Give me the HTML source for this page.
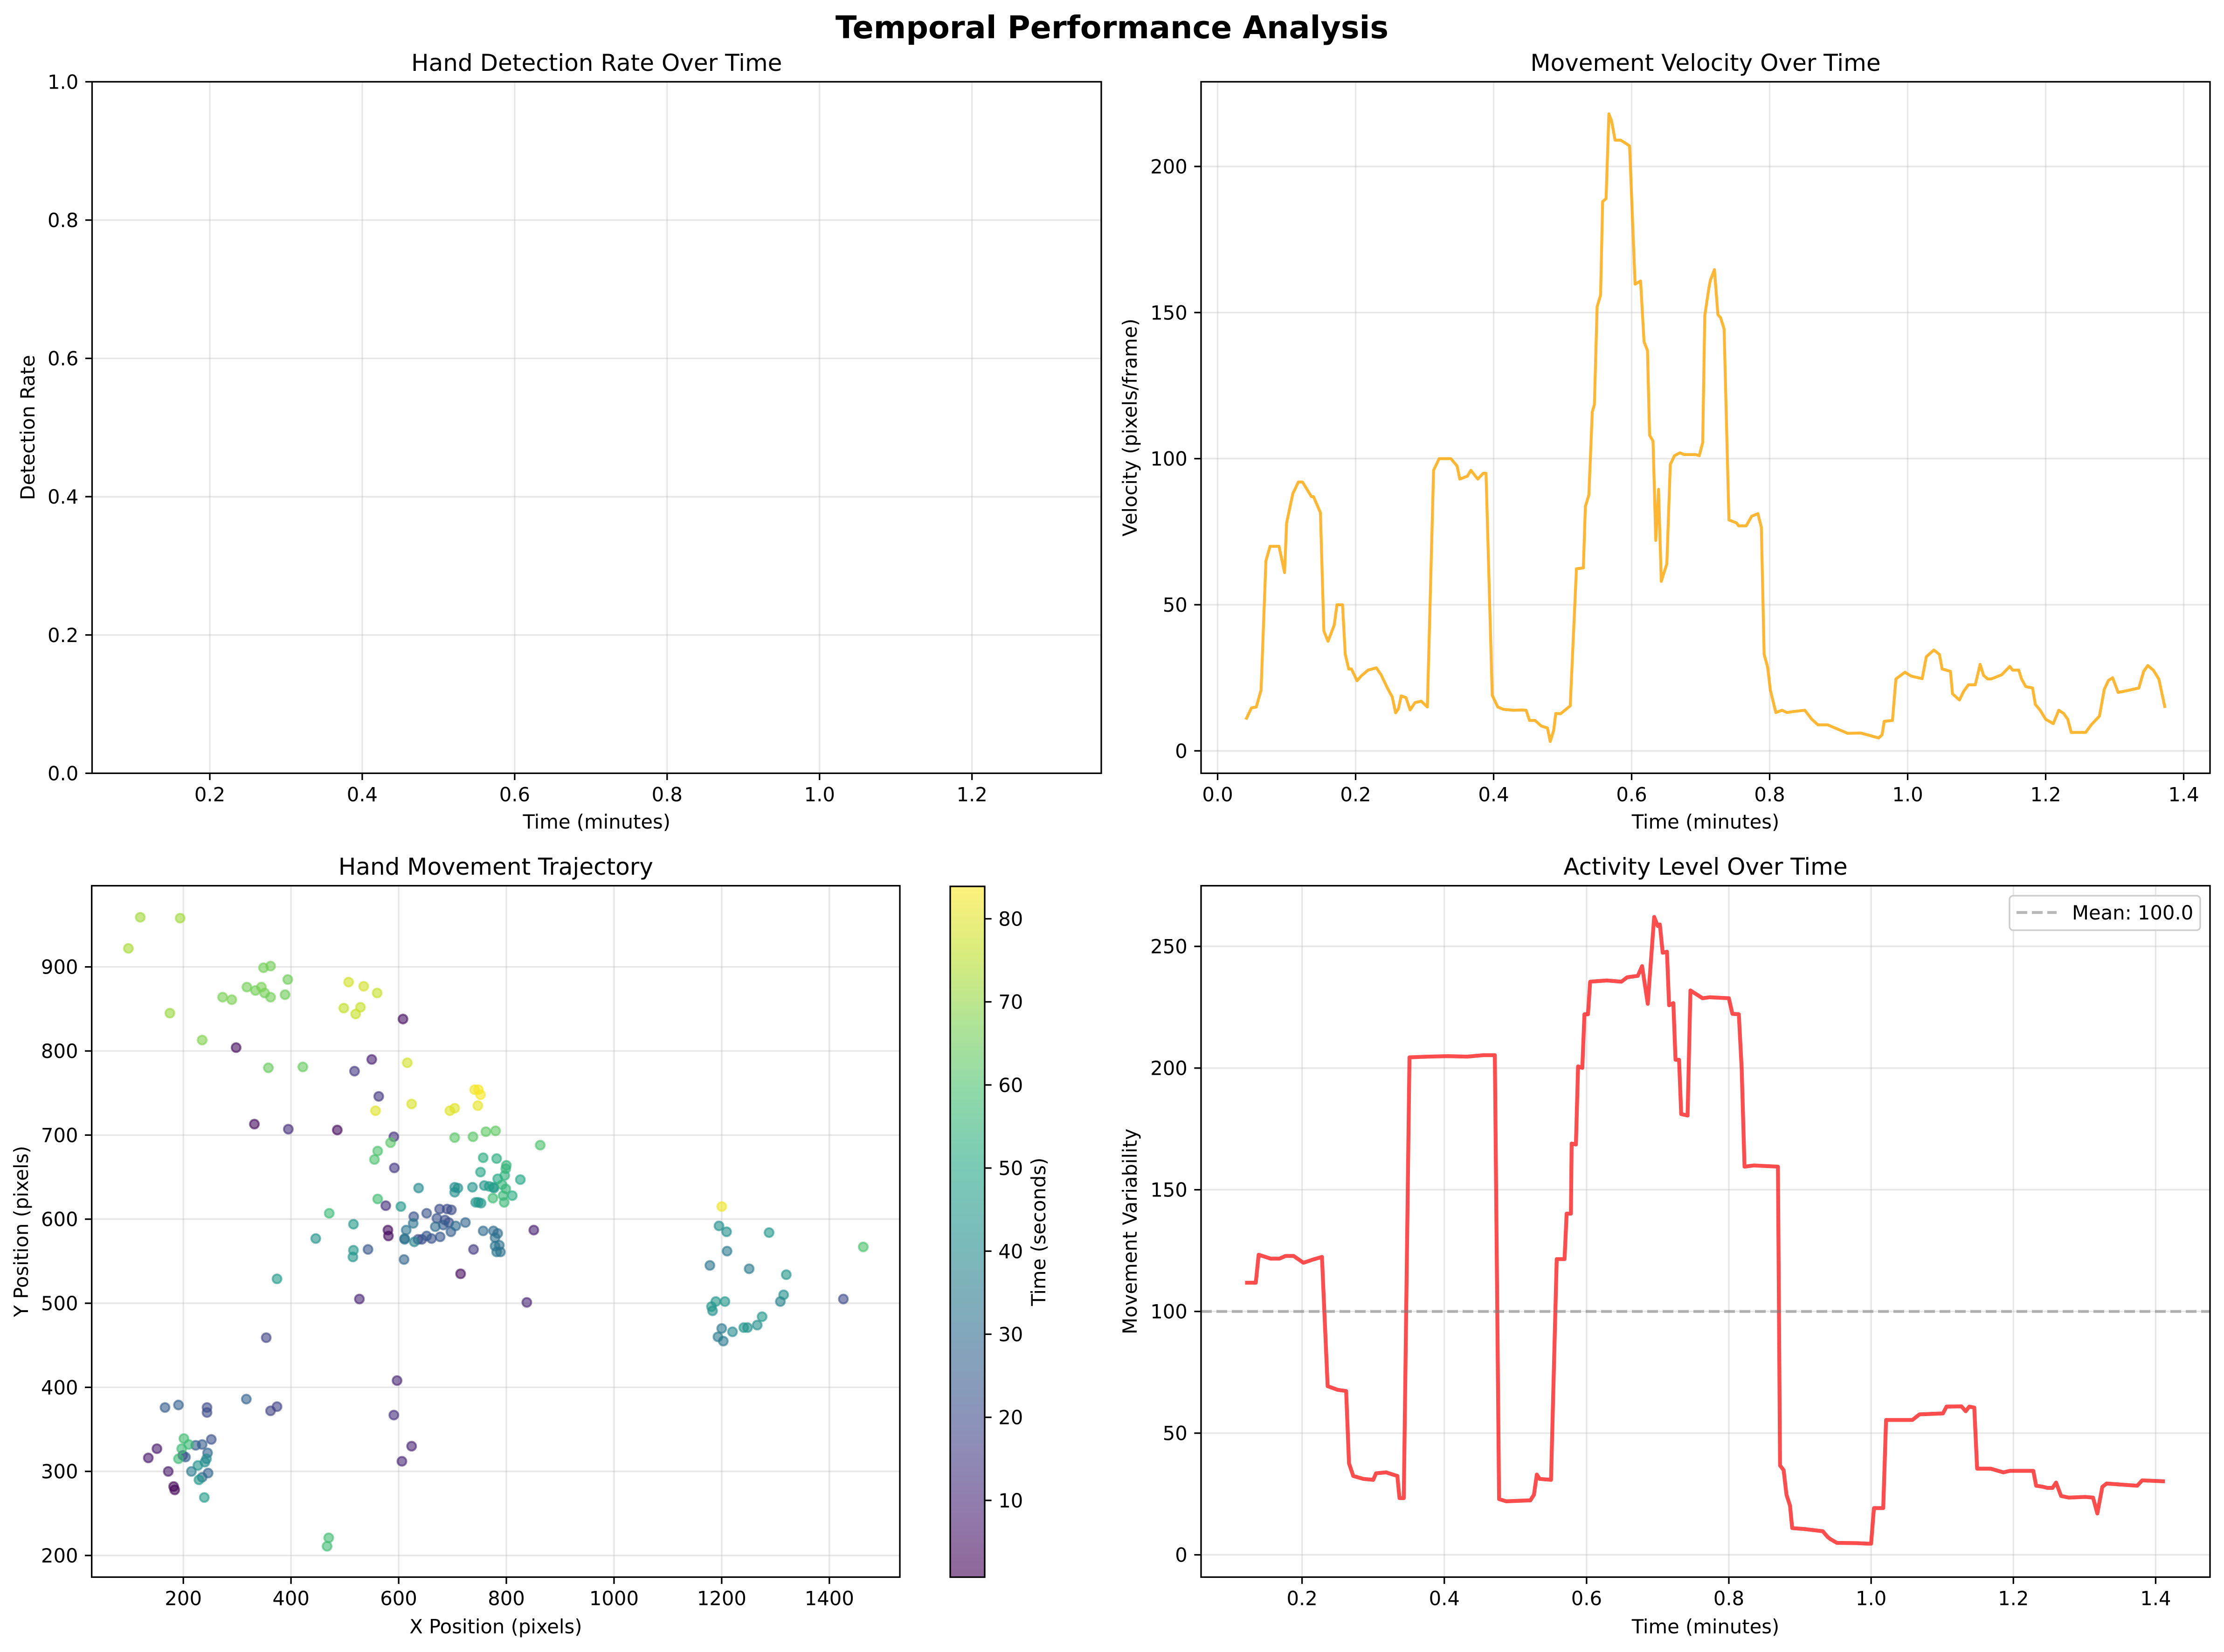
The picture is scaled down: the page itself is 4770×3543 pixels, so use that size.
<!DOCTYPE html>
<html><head><meta charset="utf-8"><title>Temporal Performance Analysis</title>
<style>html,body{margin:0;padding:0;background:#fff}svg{display:block}text{font-family:"DejaVu Sans","Liberation Sans",sans-serif;fill:#000}</style>
</head><body>
<svg id="fig" xmlns="http://www.w3.org/2000/svg" width="4770" height="3543" viewBox="0 0 4770 3543">
<rect x="0" y="0" width="4770" height="3543" fill="#fff"/>
<text x="2385" y="82" font-size="66.7" font-weight="bold" text-anchor="middle">Temporal Performance Analysis</text>
<defs>
<linearGradient id="vir" x1="0" y1="1" x2="0" y2="0">
<stop offset="0" stop-color="#440154"/><stop offset="0.1" stop-color="#482475"/><stop offset="0.2" stop-color="#414487"/><stop offset="0.3" stop-color="#355f8d"/><stop offset="0.4" stop-color="#2a788e"/><stop offset="0.5" stop-color="#21918c"/><stop offset="0.6" stop-color="#22a884"/><stop offset="0.7" stop-color="#44bf70"/><stop offset="0.8" stop-color="#7ad151"/><stop offset="0.9" stop-color="#bddf26"/><stop offset="1" stop-color="#fde725"/>
</linearGradient>
</defs>
</svg>
<script>
// ---- Velocity panel data ----
const velTime = [0.041,0.049,0.056,0.063,0.070,0.076,0.089,0.097,0.100,0.109,0.117,0.123,0.136,0.139,0.149,0.154,0.160,0.169,0.173,0.181,0.185,0.190,0.194,0.202,0.208,0.218,0.230,0.237,0.246,0.253,0.258,0.262,0.266,0.273,0.279,0.286,0.295,0.304,0.313,0.321,0.338,0.347,0.351,0.362,0.367,0.377,0.385,0.389,0.398,0.406,0.414,0.429,0.441,0.447,0.452,0.460,0.469,0.478,0.482,0.487,0.490,0.497,0.511,0.520,0.530,0.533,0.538,0.543,0.546,0.550,0.555,0.558,0.563,0.567,0.571,0.576,0.584,0.591,0.597,0.605,0.613,0.618,0.623,0.626,0.631,0.635,0.639,0.643,0.651,0.656,0.662,0.670,0.676,0.693,0.698,0.703,0.706,0.712,0.714,0.720,0.725,0.729,0.734,0.741,0.752,0.755,0.766,0.774,0.783,0.788,0.792,0.797,0.801,0.809,0.818,0.825,0.833,0.851,0.861,0.870,0.884,0.903,0.913,0.932,0.946,0.958,0.963,0.966,0.978,0.983,0.996,1.005,1.021,1.027,1.038,1.046,1.050,1.062,1.065,1.075,1.081,1.088,1.098,1.105,1.110,1.116,1.121,1.136,1.141,1.148,1.152,1.161,1.165,1.171,1.181,1.185,1.192,1.200,1.211,1.219,1.226,1.232,1.237,1.258,1.266,1.278,1.285,1.291,1.297,1.305,1.318,1.335,1.342,1.348,1.356,1.364,1.373];
const velValues = [10.7,14.7,15,20.8,65,70,70,61,78,88,92,92,87,87,81.5,41,37.5,43,50,50,33,28,28,24,25.6,27.6,28.4,26,21.5,18.5,13,14.4,18.8,18.2,14,16.5,17,15,96,100,100,97.5,93,94,96,93,95,95,19,15,14.2,13.9,14,13.9,10.4,10.4,8.5,7.8,3.2,7,12.8,12.7,15.4,62.3,62.6,83.7,87.5,116,118.5,152,156,188,189,218,215.5,209,209,208,207,159.7,160.8,140,137,108,106,72,89.5,58,64,98,101,102,101.4,101.4,101,105.5,149,158.5,161,164.7,149.3,148.2,144.4,79,78,77,77,80.3,81.2,76.5,33,28.7,20.8,13.1,13.9,13.1,13.4,13.9,10.8,8.9,8.9,7,6,6.1,5.2,4.4,5.5,10.1,10.4,24.6,26.9,25.6,24.7,32.2,34.5,33,28,27.2,19.5,17.4,20.3,22.6,22.6,29.6,25.8,24.6,24.6,26,27.2,28.9,27.6,27.6,24.6,22,21.5,15.9,13.9,10.8,9.3,13.9,12.8,10.8,6.3,6.3,8.9,11.9,21.1,24.1,25,20,20.6,21.5,27.2,29.2,27.6,24.6,14.7];
const velXTicks = [0.0,0.2,0.4,0.6,0.8,1.0,1.2,1.4];
const velYTicks = [0,50,100,150,200];

// ---- Activity panel data ----
const actTime = [0.120,0.135,0.139,0.156,0.168,0.177,0.188,0.202,0.215,0.228,0.236,0.250,0.262,0.266,0.272,0.286,0.300,0.304,0.318,0.334,0.337,0.343,0.351,0.377,0.405,0.432,0.455,0.471,0.477,0.487,0.521,0.526,0.530,0.534,0.550,0.558,0.569,0.572,0.578,0.579,0.585,0.588,0.594,0.597,0.602,0.605,0.628,0.649,0.657,0.672,0.678,0.686,0.695,0.700,0.703,0.707,0.713,0.716,0.722,0.725,0.730,0.733,0.742,0.746,0.763,0.773,0.800,0.805,0.814,0.818,0.822,0.835,0.869,0.872,0.877,0.881,0.886,0.889,0.906,0.932,0.939,0.943,0.952,0.980,0.994,1.000,1.004,1.017,1.021,1.058,1.068,1.101,1.106,1.127,1.133,1.138,1.145,1.149,1.168,1.186,1.195,1.228,1.232,1.241,1.248,1.255,1.260,1.267,1.278,1.301,1.312,1.318,1.325,1.331,1.374,1.381,1.413];
const actValues = [111.8,111.8,123.3,121.7,121.7,122.8,122.8,120,121.3,122.4,69.3,67.8,67.3,37.6,32.4,31.2,30.8,33.5,33.9,32.4,23.3,23.3,204.4,204.7,204.9,204.7,205.3,205.3,22.9,22,22.4,24.7,33,31.2,30.8,121.5,121.5,140.2,140.2,169,168.6,200.7,200.1,222.1,222.1,235.5,236,235.5,237.3,237.9,241.9,226.4,262.1,258.4,259,247.4,247.8,225.8,226.7,203.4,203.4,181.1,180.5,231.9,228.7,229.1,228.7,222.3,222.1,199.8,159.5,160,159.5,36.7,34.8,24.7,20.2,11,10.6,9.7,7.3,6.4,4.9,4.8,4.6,4.6,19.2,19.2,55.4,55.4,57.7,58.1,60.9,61,59,60.9,60.5,35.4,35.4,33.9,34.5,34.5,28.4,28,27.5,27.5,29.7,24.2,23.5,23.8,23.5,17,27.9,29.3,28.4,30.6,30.2];
const actMean = [100.0];
const actXTicks = [0.2,0.4,0.6,0.8,1.0,1.2,1.4];
const actYTicks = [0,50,100,150,200,250];

// ---- Detection panel ticks ----
const detXTicks = [0.2,0.4,0.6,0.8,1.0,1.2];
const detYTicks = [0.0,0.2,0.4,0.6,0.8,1.0];

// ---- Trajectory scatter data ----
const scX = [120,194,98,362,349,394,318,334,345,351,362,273,290,389,507,535,560,498,529,520,175,235,298,358,422,608,550,518,616,563,748,752,741,747,624,557,695,704,332,395,486,591,585,704,738,762,780,561,555,592,757,782,752,637,704,710,737,759,768,776,775,704,561,576,604,743,748,753,471,516,628,652,676,690,698,671,686,693,627,614,668,683,706,724,697,677,661,652,643,636,629,611,611,580,581,757,776,779,779,782,739,543,516,515,446,610,715,374,527,354,597,317,374,362,166,191,244,244,591,252,201,235,223,210,197,199,204,191,151,135,245,243,240,624,606,172,215,227,246,235,229,182,184,239,470,467,863,800,799,797,826,784,792,799,777,794,811,796,851,784,787,789,838,1200,1195,1209,1288,1210,1178,1251,1320,1315,1309,1189,1206,1181,1183,1426,1463,1275,1266,1248,1241,1220,1200,1193,1203];
const scY = [959,958,922,901,899,885,876,872,876,869,864,864,861,867,882,877,869,851,852,844,845,813,804,780,781,838,790,776,786,746,754,748,754,735,737,729,729,732,713,707,706,698,691,697,698,704,705,681,671,661,673,672,656,637,638,637,638,640,639,638,625,632,624,616,615,620,620,619,607,594,603,607,612,612,611,601,599,596,595,587,591,593,592,596,585,579,577,580,576,576,573,577,576,587,580,586,586,578,568,561,564,564,563,555,577,552,535,529,505,459,408,386,377,372,376,379,376,370,367,338,339,332,331,332,327,319,317,315,327,316,322,315,311,330,312,300,300,307,298,293,290,282,278,269,221,211,688,664,660,652,647,648,641,636,637,628,628,620,587,583,569,561,501,615,592,585,584,562,545,541,534,510,502,502,502,496,491,505,567,484,474,471,471,466,470,460,455];
const scT = [72,72,73,66,66,65,66,66,67,66,66,67,67,65,78,78,77,76,77,77,71,68,4,64,64,4,8,14,78,14,83,83,82,81,79,80,80,80,3,12,3,13,62,62,62,63,63,60,60,14,52,52,50,40,42,42,43,44,46,47,58,42,58,12,45,44,44,44,57,45,22,22,20,20,20,22,21,21,33,33,30,25,30,28,26,24,22,24,20,21,38,33,30,3,3,30,30,32,33,33,15,23,44,44,43,28,4,46,10,17,10,27,17,17,25,27,20,20,12,21,58,25,25,57,57,12,26,57,7,7,28,40,40,9,10,7,35,43,27,30,45,2,2,47,58,58,60,55,55,54,50,50,55,55,40,56,52,56,8,30,32,32,10,82,42,42,45,35,33,35,44,42,37,44,44,45,42,20,60,45,42,42,44,40,35,35,35];
const scXTicks = [200,400,600,800,1000,1200,1400];
const scYTicks = [200,300,400,500,600,700,800,900];
const cbTicks = [10,20,30,40,50,60,70,80];
const cbRange = [0.76,83.9];

const NS = 'http://www.w3.org/2000/svg';
const svg = document.getElementById('fig');
function mk(tag, attrs, parent) {
  const e = document.createElementNS(NS, tag);
  for (const k in attrs) e.setAttribute(k, attrs[k]);
  (parent || svg).appendChild(e);
  return e;
}
function lin(d0, d1, r0, r1) { return v => r0 + (v - d0) * (r1 - r0) / (d1 - d0); }
const TICK = 14.6, FS = 41.7;

function axesFrame(name, L, T, R, B, sx, sy, xt, yt, fmtx, fmty) {
  const g = mk('g', {});
  
  
  xt.forEach(v => {
    const x = sx(v);
    const gl = mk('line', {x1: x, x2: x, y1: T, y2: B, stroke: '#b0b0b0', 'stroke-opacity': 0.3, 'stroke-width': 3.3}, g);
    
    
    const tk = mk('line', {x1: x, x2: x, y1: B, y2: B + TICK, stroke: '#000', 'stroke-width': 3.3}, g);
    
    
    const tl = mk('text', {x: x, y: B + TICK + 14.6 + 31, 'font-size': FS, 'text-anchor': 'middle'}, g);
    tl.textContent = fmtx(v);
    
    
  });
  yt.forEach(v => {
    const y = sy(v);
    const gl = mk('line', {x1: L, x2: R, y1: y, y2: y, stroke: '#b0b0b0', 'stroke-opacity': 0.3, 'stroke-width': 3.3}, g);
    
    
    const tk = mk('line', {x1: L - TICK, x2: L, y1: y, y2: y, stroke: '#000', 'stroke-width': 3.3}, g);
    
    
    const tl = mk('text', {x: L - TICK - 14.6, y: y + 15, 'font-size': FS, 'text-anchor': 'end'}, g);
    tl.textContent = fmty(v);
    
    
  });
  return g;
}
function spine(name, L, T, R, B) {
  const r = mk('rect', {x: L, y: T, width: R - L, height: B - T, fill: 'none', stroke: '#000', 'stroke-width': 3.3});
  
  
}
function label(name, txt, x, y, fs, rot) {
  const t = mk('text', {x: x, y: y, 'font-size': fs, 'text-anchor': 'middle'});
  if (rot) t.setAttribute('transform', 'rotate(-90 ' + x + ' ' + y + ')');
  t.textContent = txt;
  
  
}
const f1 = v => v.toFixed(1), f0 = v => String(v);

// ---- Panel 1: detection rate (empty) ----
{
  const L = 197.5, T = 175.4, R = 2362, B = 1658.4;
  const sx = lin(0.2, 1.2, 450, 2084.7), sy = lin(0, 1, B, T);
  axesFrame('detection-axes', L, T, R, B, sx, sy, detXTicks, detYTicks, f1, f1);
  spine('detection-frame', L, T, R, B);
  label('detection-title', 'Hand Detection Rate Over Time', (L + R) / 2, 152, 50);
  label('detection-x-axis-title', 'Time (minutes)', (L + R) / 2, 1777, FS);
  label('detection-y-axis-title', 'Detection Rate', 74, (T + B) / 2, FS, true);
}

// ---- Panel 2: velocity ----
{
  const L = 2576, T = 175.4, R = 4740, B = 1658.4;
  const sx = lin(0, 1.4, 2611.5, 4683.5), sy = lin(0, 200, 1610.3, 357);
  axesFrame('velocity-axes', L, T, R, B, sx, sy, velXTicks, velYTicks, f1, f0);
  const pts = velTime.map((t, i) => sx(t).toFixed(1) + ',' + sy(velValues[i]).toFixed(1)).join(' ');
  const pl = mk('polyline', {points: pts, fill: 'none', stroke: '#ffa500', 'stroke-opacity': 0.8, 'stroke-width': 6.25, 'stroke-linejoin': 'round'});
  
  
  spine('velocity-frame', L, T, R, B);
  label('velocity-title', 'Movement Velocity Over Time', (L + R) / 2, 152, 50);
  label('velocity-x-axis-title', 'Time (minutes)', (L + R) / 2, 1777, FS);
  label('velocity-y-axis-title', 'Velocity (pixels/frame)', 2438, (T + B) / 2, FS, true);
}

// ---- Panel 3: trajectory scatter ----
const vstops = [[68,1,84],[72,36,117],[65,68,135],[53,95,141],[42,120,142],[33,145,140],[34,168,132],[68,191,112],[122,209,81],[189,223,38],[253,231,37]];
function viridis(v) {
  let f = (v - cbRange[0]) / (cbRange[1] - cbRange[0]);
  f = Math.max(0, Math.min(1, f)) * 10;
  const i = Math.min(9, Math.floor(f)), r = f - i;
  const a = vstops[i], b = vstops[i + 1];
  return 'rgb(' + [0,1,2].map(k => Math.round(a[k] + (b[k] - a[k]) * r)).join(',') + ')';
}
{
  const L = 196.7, T = 1899.6, R = 1930, B = 3382.4;
  const sx = lin(200, 1400, 393.2, 1778.8), sy = lin(900, 200, 2073.7, 3336);
  axesFrame('trajectory-axes', L, T, R, B, sx, sy, scXTicks, scYTicks, f0, f0);
  const order = scT.map((t, i) => i).sort((a, b) => scT[a] - scT[b]);
  const g = mk('g', {});
  
  
  order.forEach(i => {
    const c = viridis(scT[i]);
    const p = mk('circle', {cx: sx(scX[i]).toFixed(1), cy: sy(scY[i]).toFixed(1), r: 9.5, fill: c, stroke: c, 'stroke-width': 4, 'fill-opacity': 0.6, 'stroke-opacity': 0.6}, g);
    
    
  });
  spine('trajectory-frame', L, T, R, B);
  label('trajectory-title', 'Hand Movement Trajectory', (L + R) / 2, 1876, 50);
  label('trajectory-x-axis-title', 'X Position (pixels)', (L + R) / 2, 3503, FS);
  label('trajectory-y-axis-title', 'Y Position (pixels)', 60, (T + B) / 2, FS, true);

  // colorbar
  const cL = 2038, cR = 2112, cT = 1901, cB = 3382.5;
  const cs = lin(cbRange[0], cbRange[1], cB, cT);
  const cb = mk('rect', {x: cL, y: cT, width: cR - cL, height: cB - cT, fill: 'url(#vir)', 'fill-opacity': 0.6});
  
  
  cbTicks.forEach(v => {
    const y = cs(v);
    const tk = mk('line', {x1: cR, x2: cR + TICK, y1: y, y2: y, stroke: '#000', 'stroke-width': 3.3});
    
    
    const tl = mk('text', {x: cR + TICK + 14.6, y: y + 15, 'font-size': FS});
    tl.textContent = String(v);
    
    
  });
  spine('colorbar-frame', cL, cT, cR, cB);
  label('colorbar-title', 'Time (seconds)', 2242, (cT + cB) / 2, FS, true);
}

// ---- Panel 4: activity ----
{
  const L = 2576, T = 1899.6, R = 4740, B = 3382.4;
  const sx = lin(0.2, 1.4, 2792.6, 4623.4), sy = lin(0, 250, 3334.6, 2029.7);
  axesFrame('activity-axes', L, T, R, B, sx, sy, actXTicks, actYTicks, f1, f0);
  const pts = actTime.map((t, i) => sx(t).toFixed(1) + ',' + sy(actValues[i]).toFixed(1)).join(' ');
  const pl = mk('polyline', {points: pts, fill: 'none', stroke: '#ff0000', 'stroke-opacity': 0.7, 'stroke-width': 8.3, 'stroke-linejoin': 'round'});
  
  
  const my = sy(actMean[0]);
  const ml = mk('line', {x1: L, x2: R, y1: my, y2: my, stroke: '#808080', 'stroke-opacity': 0.55, 'stroke-width': 6.25, 'stroke-dasharray': '23,10'});
  
  
  spine('activity-frame', L, T, R, B);
  label('activity-title', 'Activity Level Over Time', (L + R) / 2, 1876, 50);
  label('activity-x-axis-title', 'Time (minutes)', (L + R) / 2, 3503, FS);
  label('activity-y-axis-title', 'Movement Variability', 2438, (T + B) / 2, FS, true);
  // legend
  const lg = mk('g', {});
  
  
  mk('rect', {x: 4310, y: 1921, width: 409, height: 74, rx: 8, fill: '#fff', 'fill-opacity': 0.8, stroke: '#cccccc', 'stroke-width': 3.3}, lg);
  const ls = mk('line', {x1: 4325, x2: 4411, y1: 1957, y2: 1957, stroke: '#808080', 'stroke-opacity': 0.55, 'stroke-width': 6.25, 'stroke-dasharray': '23,10'}, lg);
  
  
  const lt = mk('text', {x: 4444, y: 1972, 'font-size': FS}, lg);
  lt.textContent = 'Mean: ' + actMean[0].toFixed(1);
  
  
}
</script>
</body></html>
